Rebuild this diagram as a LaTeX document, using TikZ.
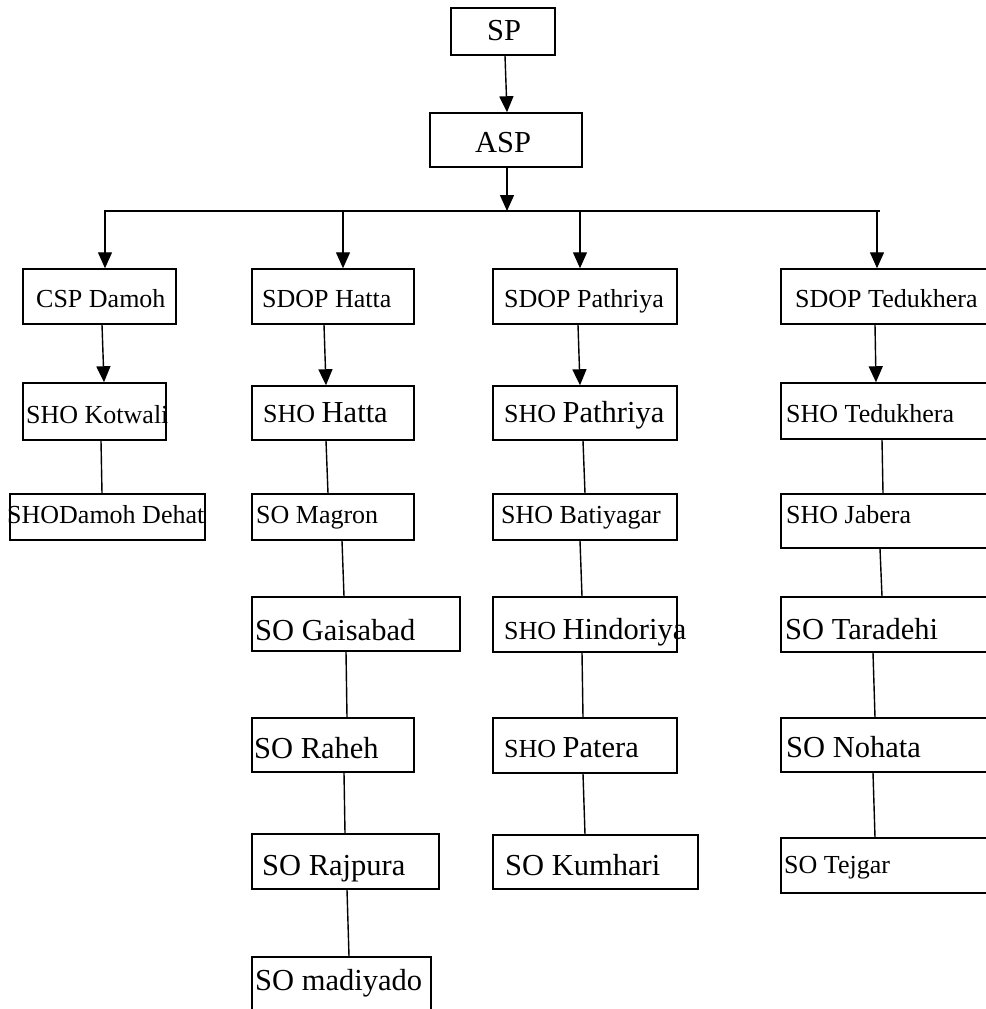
\documentclass[tikz,border=0pt]{standalone}
\usepackage{fontspec}
\setmainfont{Liberation Serif}
\usetikzlibrary{arrows.meta}
\usetikzlibrary{fit}
\newcommand{\smtxt}{\fontsize{26}{30}\selectfont}
\newcommand{\bgtxt}{\fontsize{30.5}{34}\selectfont}
\tikzset{
  box/.style={draw, line width=1.5pt, inner sep=0pt},
  txt/.style={anchor=base west, inner sep=0pt},
  arr/.style={line width=1.4pt, -{Triangle[width=14pt,length=16pt]}},
  con/.style={line width=1.4pt}
}
\begin{document}
\begin{tikzpicture}[x=1pt,y=-1pt]
		\useasboundingbox (0,0) rectangle (985,1009) ;
\par
% top of the chart
		\node[box, fit={(451,8) (555,55)}] (sp) {} ;
		\node[txt] (tsp) at (487,40) {\bgtxt SP} ;
		\node[box, fit={(430,113) (582,167)}] (asp) {} ;
		\node[txt] (tasp) at (475,152) {\bgtxt ASP} ;
		\draw[arr] ([xshift=2pt]sp.south) -- ([xshift=1pt]asp.north) ;
\par
% bus line
		\coordinate (busL) at (104,211) ;
		\coordinate (busR) at (880,211) ;
		\coordinate (b1) at (105,211) ;
		\coordinate (b2) at (343,211) ;
		\coordinate (b3) at (580,211) ;
		\coordinate (b4) at (877,211) ;
		\draw[con] (busL) -- (busR) ;
		\draw[arr] ([xshift=1pt]asp.south) -- ([xshift=1pt]asp.south |- busL) ;
\par
% first row
		\node[box, fit={(23,269) (176,324)}] (csp) {} ;
		\node[txt] (tcsp) at (36,307) {\smtxt CSP Damoh} ;
		\node[box, fit={(252,269) (414,324)}] (sdopH) {} ;
		\node[txt] (tsdopH) at (262,307) {\smtxt SDOP Hatta} ;
		\node[box, fit={(493,269) (677,324)}] (sdopP) {} ;
		\node[txt] (tsdopP) at (504,307) {\smtxt SDOP Pathriya} ;
		\node[box, fit={(781,269) (992,324)}] (sdopT) {} ;
		\node[txt] (tsdopT) at (795,307) {\smtxt SDOP Tedukhera} ;
		\draw[arr] (b1) -- (b1 |- csp.north) ;
		\draw[arr] (b2) -- (b2 |- sdopH.north) ;
		\draw[arr] (b3) -- (b3 |- sdopP.north) ;
		\draw[arr] (b4) -- (b4 |- sdopT.north) ;
\par
% CSP Damoh
		\node[box, fit={(23,383) (166,440)}] (kot) {} ;
		\node[txt] (tkot) at (26,423) {\smtxt SHO Kotwali} ;
		\node[box, fit={(10,494) (205,540)}] (dehat) {} ;
		\node[txt] (tdehat) at (7,523) {\smtxt SHODamoh Dehat} ;
		\draw[arr] ([xshift=2.5pt]csp.south) -- ([xshift=9.5pt]kot.north) ;
		\draw[con] ([xshift=6.5pt]kot.south) -- ([xshift=-5.5pt]dehat.north) ;
\par
% SDOP Hatta
		\node[box, fit={(252,386) (414,440)}] (shoH) {} ;
		\node[txt] (tshoH) at (263,422) {\smtxt SHO \bgtxt Hatta} ;
		\node[box, fit={(252,494) (414,540)}] (magron) {} ;
		\node[txt] (tmagron) at (256,523) {\smtxt SO Magron} ;
		\node[box, fit={(252,597) (460,651)}] (gais) {} ;
		\node[txt] (tgais) at (255,640) {\bgtxt SO Gaisabad} ;
		\node[box, fit={(252,718) (414,772)}] (raheh) {} ;
		\node[txt] (traheh) at (254,758) {\bgtxt SO Raheh} ;
		\node[box, fit={(252,834) (439,889)}] (rajpura) {} ;
		\node[txt] (trajpura) at (262,875) {\bgtxt SO Rajpura} ;
		\node[box, fit={(252,957) (431,1015)}] (madiyado) {} ;
		\node[txt] (tmadiyado) at (255,990) {\bgtxt SO madiyado} ;
		\draw[arr] ([xshift=-9pt]sdopH.south) -- ([xshift=-7pt]shoH.north) ;
		\draw[con] ([xshift=-7pt]shoH.south) -- ([xshift=-5pt]magron.north) ;
		\draw[con] ([xshift=9pt]magron.south) -- ([xshift=-12pt]gais.north) ;
		\draw[con] ([xshift=-10pt]gais.south) -- ([xshift=14pt]raheh.north) ;
		\draw[con] ([xshift=11pt]raheh.south) -- ([xshift=-0.5pt]rajpura.north) ;
		\draw[con] ([xshift=1.5pt]rajpura.south) -- ([xshift=7.5pt]madiyado.north) ;
\par
% SDOP Pathriya
		\node[box, fit={(493,386) (677,440)}] (shoP) {} ;
		\node[txt] (tshoP) at (504,422) {\smtxt SHO \bgtxt Pathriya} ;
		\node[box, fit={(493,494) (677,540)}] (batiy) {} ;
		\node[txt] (tbatiy) at (501,523) {\smtxt SHO Batiyagar} ;
		\node[box, fit={(493,597) (677,652)}] (hindo) {} ;
		\node[txt] (thindo) at (504,639) {\smtxt SHO \bgtxt Hindoriya} ;
		\node[box, fit={(493,718) (677,773)}] (patera) {} ;
		\node[txt] (tpatera) at (504,757) {\smtxt SHO \bgtxt Patera} ;
		\node[box, fit={(493,835) (698,889)}] (kumhari) {} ;
		\node[txt] (tkumhari) at (505,875) {\bgtxt SO Kumhari} ;
		\draw[arr] ([xshift=-7pt]sdopP.south) -- ([xshift=-5pt]shoP.north) ;
		\draw[con] ([xshift=-2pt]shoP.south) -- (batiy.north) ;
		\draw[con] ([xshift=-5pt]batiy.south) -- ([xshift=-3pt]hindo.north) ;
		\draw[con] ([xshift=-3pt]hindo.south) -- ([xshift=-2pt]patera.north) ;
		\draw[con] ([xshift=-2pt]patera.south) -- ([xshift=-10.5pt]kumhari.north) ;
\par
% SDOP Tedukhera
		\node[box, fit={(781,383) (992,439)}] (shoT) {} ;
		\node[txt] (tshoT) at (786,422) {\smtxt SHO Tedukhera} ;
		\node[box, fit={(781,494) (992,548)}] (jabera) {} ;
		\node[txt] (tjabera) at (786,523) {\smtxt SHO Jabera} ;
		\node[box, fit={(781,597) (992,652)}] (tara) {} ;
		\node[txt] (ttara) at (785,639) {\bgtxt SO Taradehi} ;
		\node[box, fit={(781,718) (992,772)}] (nohata) {} ;
		\node[txt] (tnohata) at (786,757) {\bgtxt SO Nohata} ;
		\node[box, fit={(781,838) (992,893)}] (tejgar) {} ;
		\node[txt] (ttejgar) at (784,873) {\smtxt SO Tejgar} ;
		\draw[arr] ([xshift=-11.5pt]sdopT.south) -- ([xshift=-10.5pt]shoT.north) ;
		\draw[con] ([xshift=-4.5pt]shoT.south) -- ([xshift=-3.5pt]jabera.north) ;
		\draw[con] ([xshift=-6.5pt]jabera.south) -- ([xshift=-4.5pt]tara.north) ;
		\draw[con] ([xshift=-13.5pt]tara.south) -- ([xshift=-11.5pt]nohata.north) ;
		\draw[con] ([xshift=-13.5pt]nohata.south) -- ([xshift=-11.5pt]tejgar.north) ;
	\end{tikzpicture}
\end{document}
